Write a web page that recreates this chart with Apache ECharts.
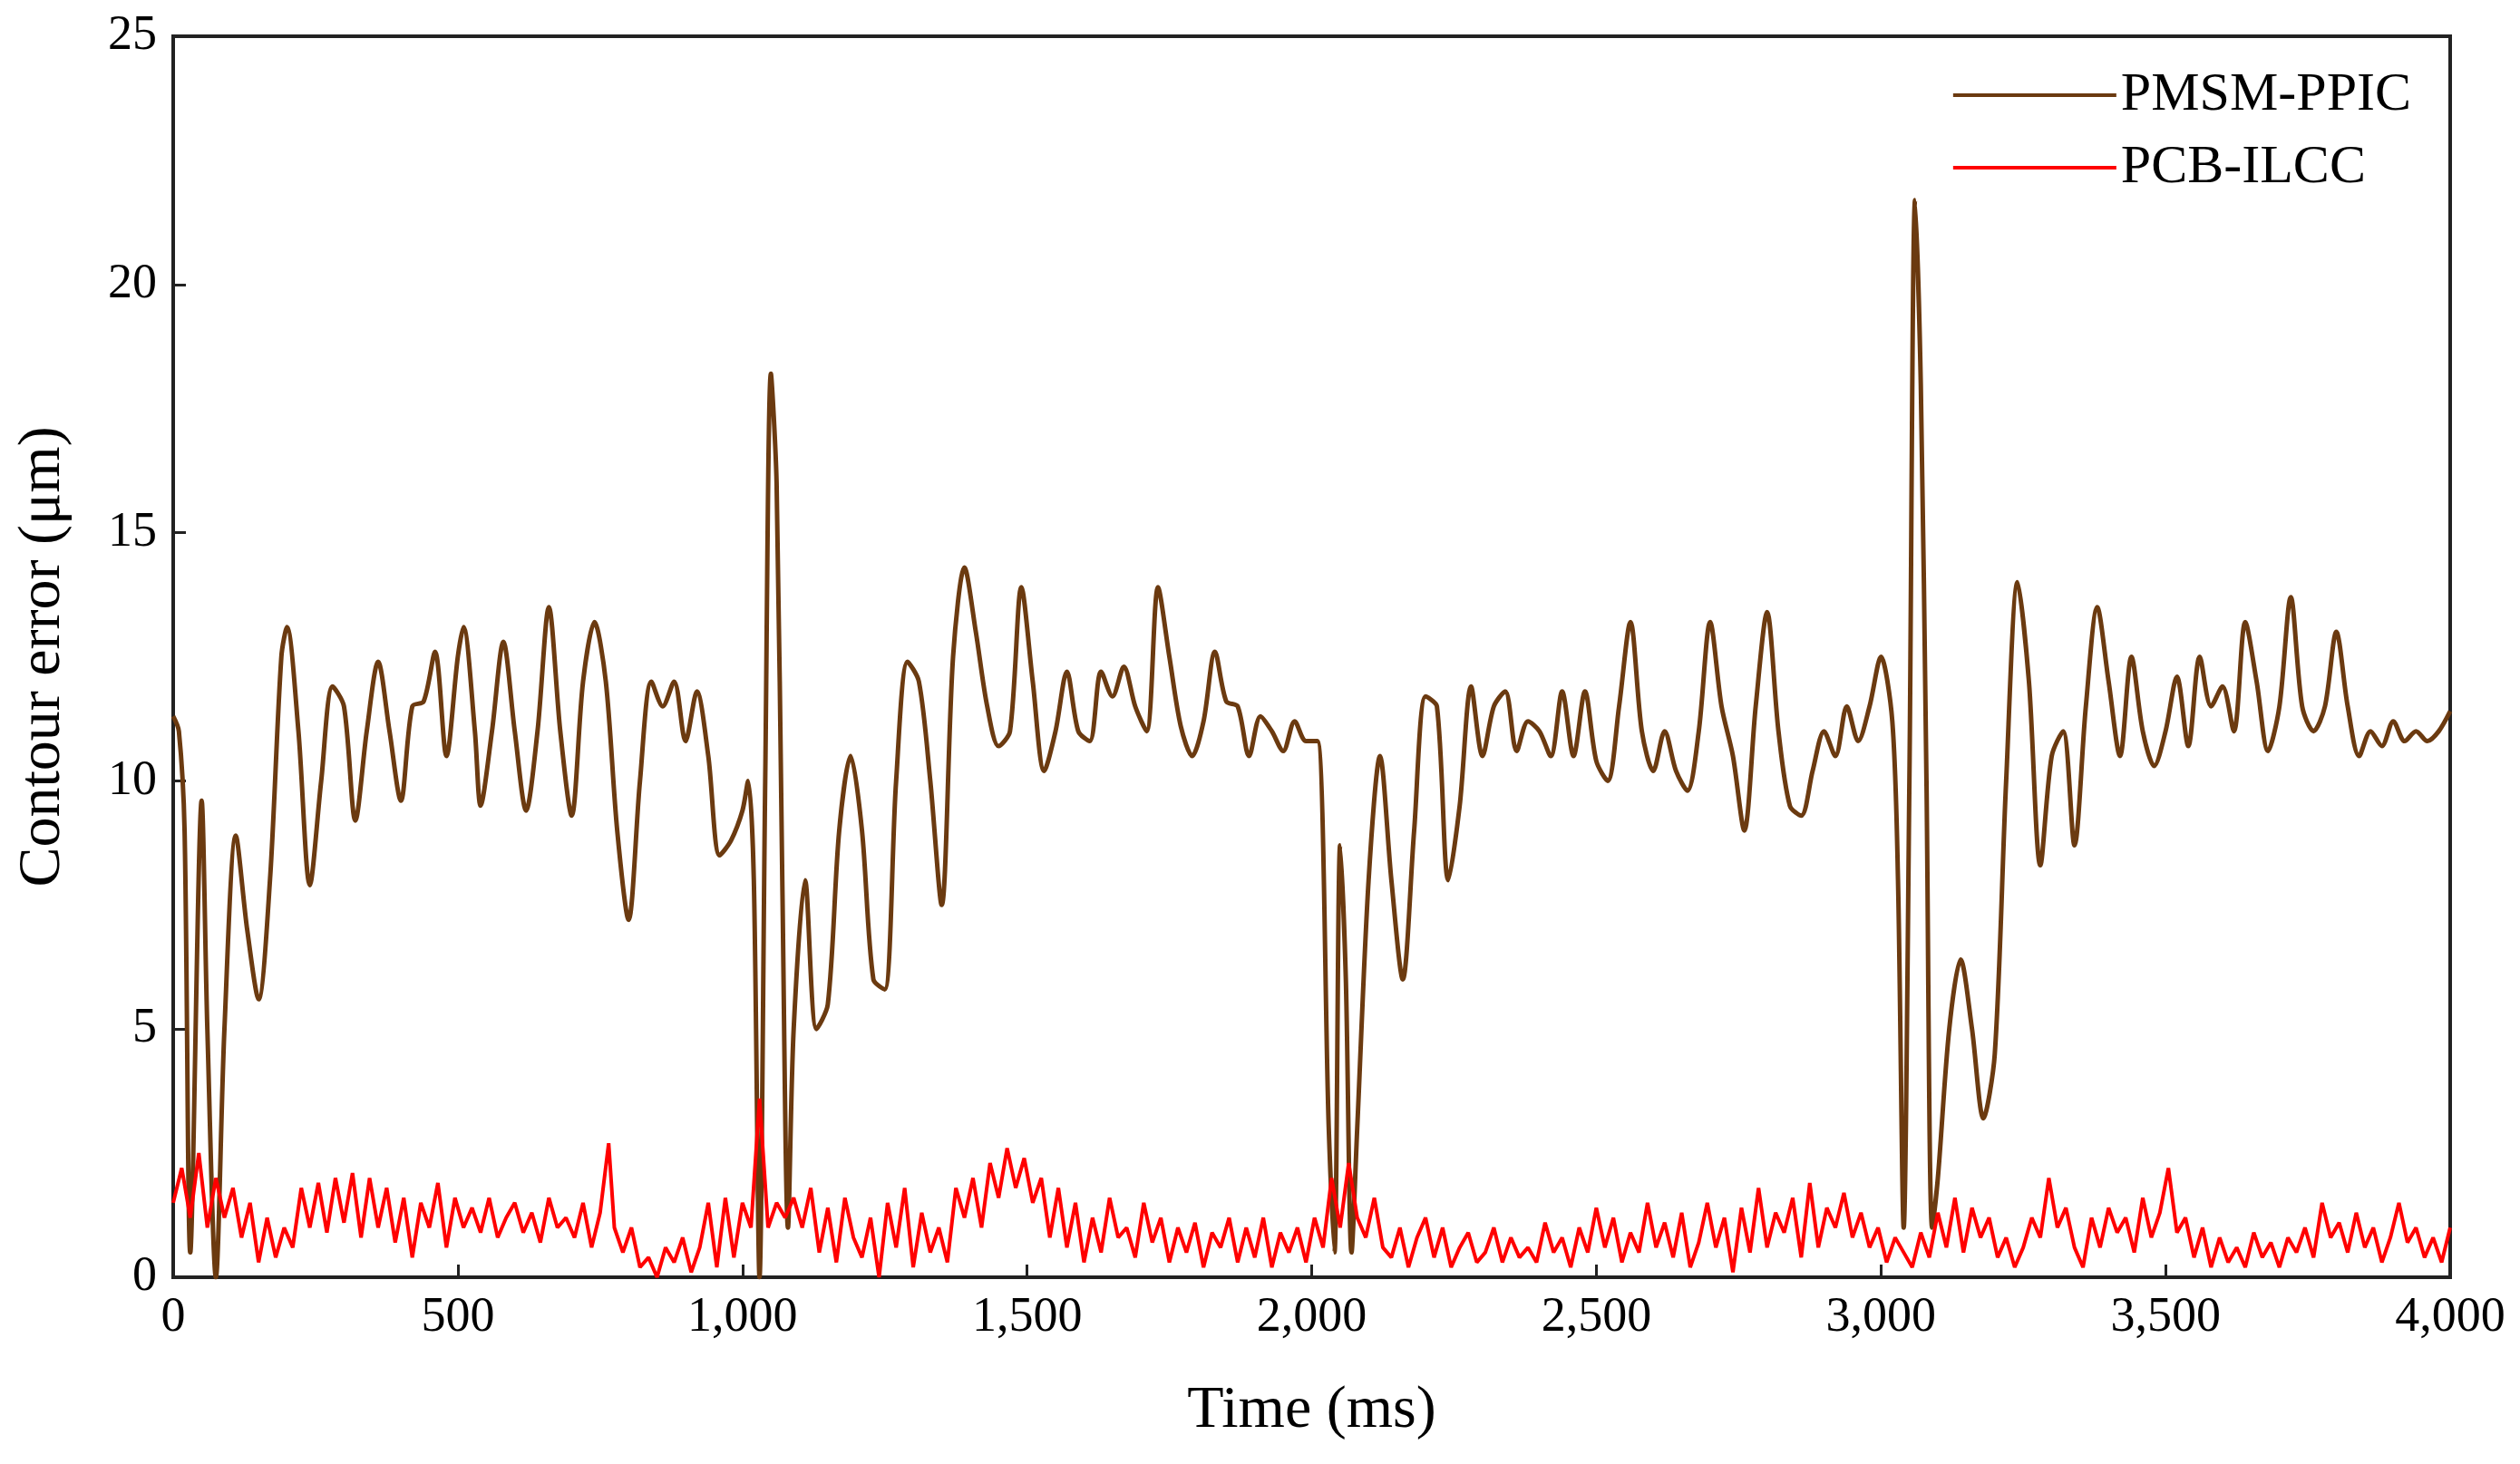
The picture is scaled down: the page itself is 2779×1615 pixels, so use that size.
<!DOCTYPE html>
<html><head><meta charset="utf-8">
<script src="https://cdn.jsdelivr.net/npm/echarts@6/dist/echarts.min.js"></script>
<style>html,body{margin:0;background:#fff}#c{width:2779px;height:1615px}</style>
</head><body><div id="c"></div>
<script>
const brownT=[0,10,20,30,50,60,75,90,110,130,150,170,190,200,220,240,260,280,300,320,340,360,380,400,420,440,460,480,500,510,530,540,560,580,600,620,640,660,680,700,720,740,760,780,800,820,840,860,880,900,920,940,960,980,1000,1010,1020,1030,1040,1050,1060,1070,1080,1090,1110,1130,1150,1170,1190,1210,1230,1250,1270,1290,1310,1330,1350,1370,1390,1410,1430,1450,1470,1490,1510,1530,1550,1570,1590,1610,1630,1650,1670,1690,1710,1730,1750,1770,1790,1810,1830,1850,1870,1890,1910,1930,1950,1970,1990,2010,2030,2040,2050,2060,2070,2080,2100,2120,2140,2160,2180,2200,2220,2240,2260,2280,2300,2320,2340,2360,2380,2400,2420,2440,2460,2480,2500,2520,2540,2560,2580,2600,2620,2640,2660,2680,2700,2720,2740,2760,2780,2800,2820,2840,2860,2880,2900,2920,2940,2960,2980,3000,3020,3030,3040,3050,3060,3070,3080,3090,3100,3120,3140,3160,3180,3200,3220,3240,3260,3280,3300,3320,3340,3360,3380,3400,3420,3440,3460,3480,3500,3520,3540,3560,3580,3600,3620,3640,3660,3680,3700,3720,3740,3760,3780,3800,3820,3840,3860,3880,3900,3920,3940,3960,3980,4000];
const brownV=[11.3,11,9,0.5,9.6,5,0,5,8.9,7,5.6,8,12.5,13.1,11,7.9,10,11.9,11.5,9.2,11,12.4,11,9.6,11.5,11.6,12.6,10.5,12.5,13.1,11,9.5,11,12.8,11,9.4,11,13.5,11,9.3,12,13.2,12,9,7.2,10,12,11.5,12,10.8,11.8,10.5,8.5,8.8,9.4,10,8,0,10,18.2,16,8,1,5,8,5,5.5,9,10.5,9,6,5.8,10,12.4,12,10,7.5,12.5,14.3,13,11.5,10.7,11,13.9,12,10.2,11,12.2,11,10.8,12.2,11.7,12.3,11.5,11,13.9,12.5,11.1,10.5,11.2,12.6,11.6,11.5,10.5,11.3,11,10.6,11.2,10.8,10.8,3,0.5,8.7,6,0.5,3,8,10.5,8,6,9,11.7,11.5,8,9.5,11.9,10.5,11.5,11.8,10.6,11.2,11,10.5,11.8,10.5,11.8,10.4,10,11.5,13.2,11,10.2,11,10.2,9.8,11,13.2,11.5,10.5,9,11.5,13.4,11,9.5,9.3,10.2,11,10.5,11.5,10.8,11.5,12.5,11.2,8,1,10,21.7,18,10,1,2,5,6.4,5,3.2,4.5,10,14,12,8.3,10.5,11,8.7,11.5,13.5,12,10.5,12.5,11,10.3,11,12.1,10.7,12.5,11.5,11.9,11,13.2,12,10.6,11.5,13.7,11.5,11,11.5,13,11.5,10.5,11,10.7,11.2,10.8,11,10.8,11,11.4];
const redT=[0,15,30,45,60,75,90,105,120,135,150,165,180,195,210,225,240,255,270,285,300,315,330,345,360,375,390,405,420,435,450,465,480,495,510,525,540,555,570,585,600,615,630,645,660,675,690,705,720,735,750,765,775,790,805,820,835,850,865,880,895,910,925,940,955,970,985,1000,1015,1030,1045,1060,1075,1090,1105,1120,1135,1150,1165,1180,1195,1210,1225,1240,1255,1270,1285,1300,1315,1330,1345,1360,1375,1390,1405,1420,1435,1450,1465,1480,1495,1510,1525,1540,1555,1570,1585,1600,1615,1630,1645,1660,1675,1690,1705,1720,1735,1750,1765,1780,1795,1810,1825,1840,1855,1870,1885,1900,1915,1930,1945,1960,1975,1990,2005,2020,2035,2050,2065,2080,2095,2110,2125,2140,2155,2170,2185,2200,2215,2230,2245,2260,2275,2290,2305,2320,2335,2350,2365,2380,2395,2410,2425,2440,2455,2470,2485,2500,2515,2530,2545,2560,2575,2590,2605,2620,2635,2650,2665,2680,2695,2710,2725,2740,2755,2770,2785,2800,2815,2830,2845,2860,2875,2890,2905,2920,2935,2950,2965,2980,2995,3010,3025,3040,3055,3070,3085,3100,3115,3130,3145,3160,3175,3190,3205,3220,3235,3250,3265,3280,3295,3310,3325,3340,3355,3370,3385,3400,3415,3430,3445,3460,3475,3490,3505,3520,3535,3550,3565,3580,3595,3610,3625,3640,3655,3670,3685,3700,3715,3730,3745,3760,3775,3790,3805,3820,3835,3850,3865,3880,3895,3910,3925,3940,3955,3970,3985,4000];
const redV=[1.5,2.2,1.2,2.5,1.0,2.0,1.2,1.8,0.8,1.5,0.3,1.2,0.4,1.0,0.6,1.8,1.0,1.9,0.9,2.0,1.1,2.1,0.8,2.0,1.0,1.8,0.7,1.6,0.4,1.5,1.0,1.9,0.6,1.6,1.0,1.4,0.9,1.6,0.8,1.2,1.5,0.9,1.3,0.7,1.6,1.0,1.2,0.8,1.5,0.6,1.3,2.7,1.0,0.5,1.0,0.2,0.4,0.0,0.6,0.3,0.8,0.1,0.6,1.5,0.2,1.6,0.4,1.5,1.0,3.6,1.0,1.5,1.2,1.6,1.0,1.8,0.5,1.4,0.3,1.6,0.8,0.4,1.2,0.0,1.5,0.6,1.8,0.2,1.3,0.5,1.0,0.3,1.8,1.2,2.0,1.0,2.3,1.6,2.6,1.8,2.4,1.5,2.0,0.8,1.8,0.6,1.5,0.3,1.2,0.5,1.6,0.8,1.0,0.4,1.5,0.7,1.2,0.3,1.0,0.5,1.1,0.2,0.9,0.6,1.2,0.3,1.0,0.4,1.2,0.2,0.9,0.5,1.0,0.3,1.2,0.6,2.0,1.0,2.3,1.2,0.8,1.6,0.6,0.4,1.0,0.2,0.8,1.2,0.4,1.0,0.2,0.6,0.9,0.3,0.5,1.0,0.3,0.8,0.4,0.6,0.3,1.1,0.5,0.8,0.2,1.0,0.5,1.4,0.6,1.2,0.3,0.9,0.5,1.5,0.6,1.1,0.4,1.3,0.2,0.7,1.5,0.6,1.2,0.1,1.4,0.5,1.8,0.6,1.3,0.9,1.6,0.4,1.9,0.6,1.4,1.0,1.7,0.8,1.3,0.6,1.0,0.3,0.8,0.5,0.2,0.9,0.4,1.3,0.6,1.6,0.5,1.4,0.8,1.2,0.4,0.8,0.2,0.6,1.2,0.8,2.0,1.0,1.4,0.6,0.2,1.2,0.6,1.4,0.9,1.2,0.5,1.6,0.8,1.3,2.2,0.9,1.2,0.4,1.0,0.2,0.8,0.3,0.6,0.2,0.9,0.4,0.7,0.2,0.8,0.5,1.0,0.4,1.5,0.8,1.1,0.5,1.3,0.6,1.0,0.3,0.8,1.5,0.7,1.0,0.4,0.8,0.3,1.0,0.6,0.9,0.3,0.8,0.5];
const xTicks=[0,500,1000,1500,2000,2500,3000,3500,4000];
const yTicks=[0,5,10,15,20,25];
const zip=(t,v)=>t.map((x,i)=>[x,v[i]]);
const F='Liberation Serif';
const ax={lineStyle:{color:'#222',width:4}};
const chart=echarts.init(document.getElementById('c'));
chart.setOption({
 animation:false,
 grid:{left:191,right:77,top:40,bottom:206},
 legend:{right:115,top:70,orient:'vertical',itemWidth:180,itemHeight:4,itemGap:20,
   textStyle:{fontFamily:F,fontSize:60,color:'#000'},icon:'rect',
   data:['PMSM-PPIC','PCB-ILCC']},
 xAxis:{type:'value',min:0,max:4000,interval:500,name:'Time (ms)',nameLocation:'middle',nameGap:115,
   nameTextStyle:{fontFamily:F,fontSize:66,color:'#000'},
   axisLine:ax,axisTick:{inside:true,length:14,lineStyle:{color:'#222',width:3}},
   axisLabel:{fontFamily:F,fontSize:54,color:'#000',margin:18},splitLine:{show:false}},
 yAxis:{type:'value',min:0,max:25,interval:5,name:'Contour error (μm)',nameLocation:'middle',nameGap:110,
   nameTextStyle:{fontFamily:F,fontSize:66,color:'#000'},
   axisLine:ax,axisTick:{inside:true,length:14,lineStyle:{color:'#222',width:3}},
   axisLabel:{fontFamily:F,fontSize:54,color:'#000',margin:18},splitLine:{show:false}},
 graphic:[{type:'rect',shape:{x:191,y:40,width:2779-191-77,height:1615-40-206},style:{fill:'none',stroke:'#222',lineWidth:4},silent:true}],
 series:[
  {name:'PMSM-PPIC',type:'line',data:zip(brownT,brownV),showSymbol:false,smooth:0.3,lineStyle:{color:'#6b3a10',width:5},itemStyle:{color:'#6b3a10'},z:2},
  {name:'PCB-ILCC',type:'line',data:zip(redT,redV),showSymbol:false,lineStyle:{color:'#ff0000',width:4},itemStyle:{color:'#ff0000'},z:3}
 ]
});
</script></body></html>
